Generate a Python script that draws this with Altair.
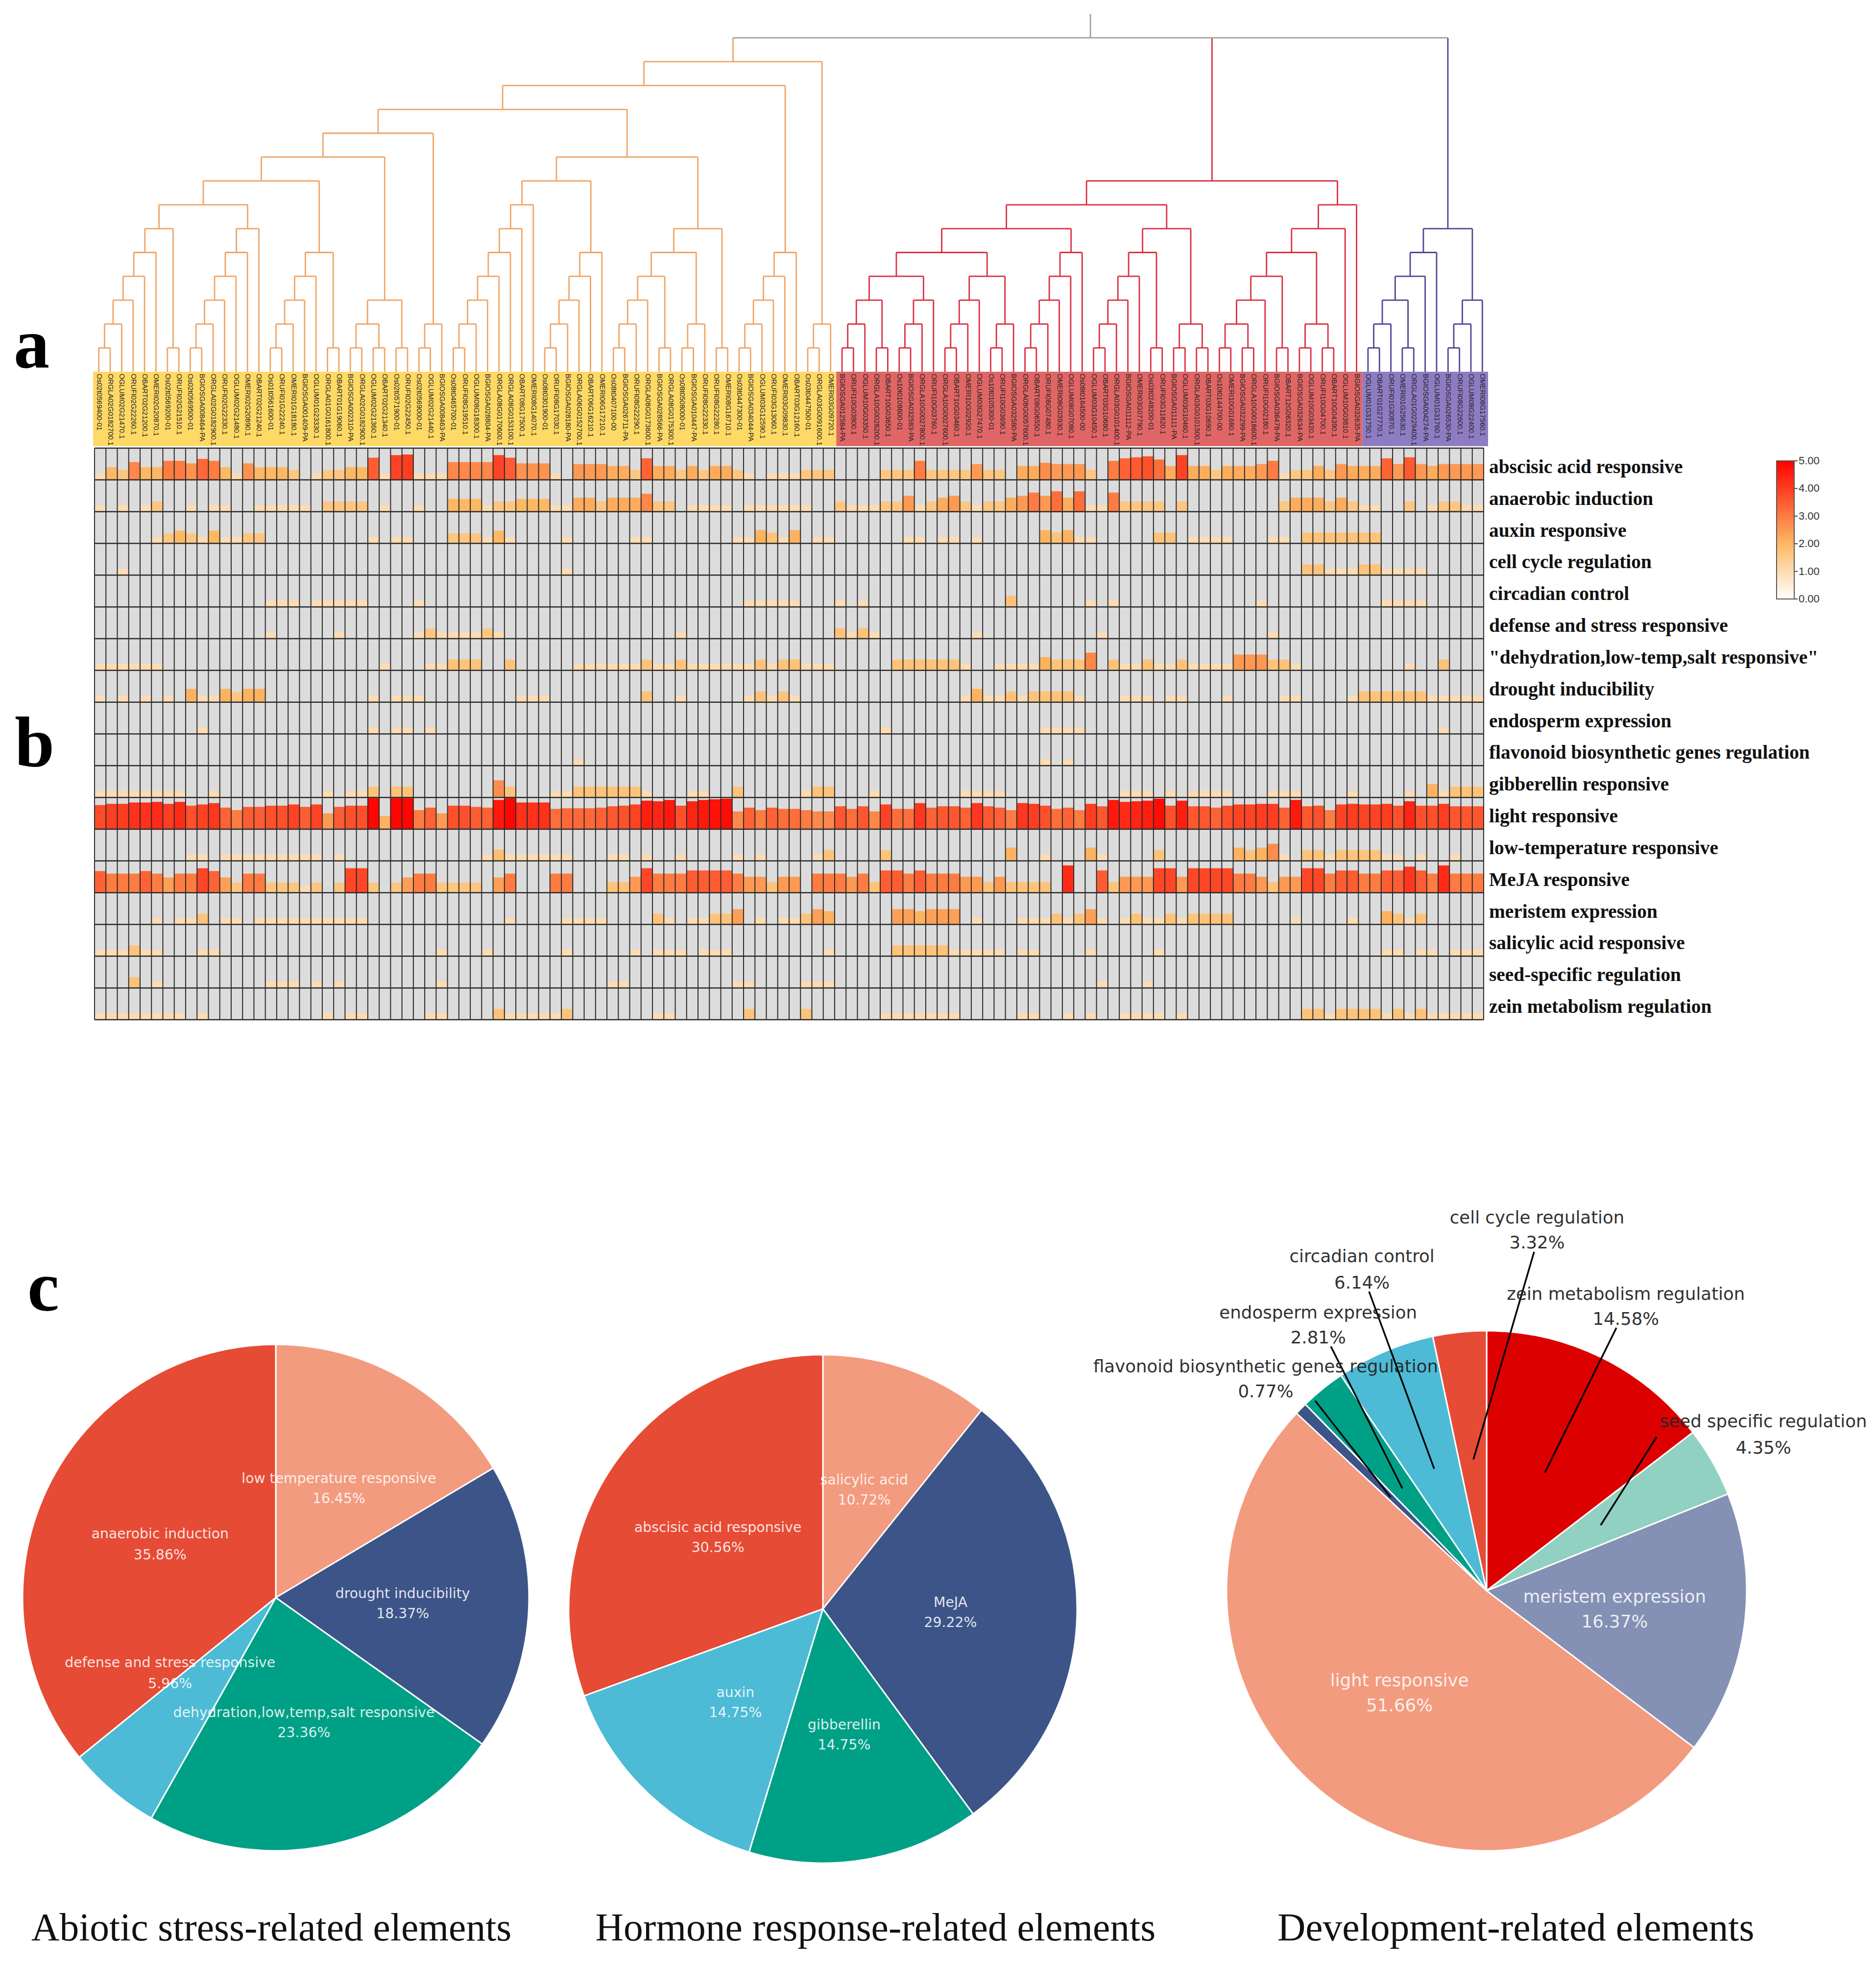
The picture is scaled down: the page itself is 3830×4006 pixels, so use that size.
import altair as alt
import pandas as pd

alt.data_transformers.disable_max_rows()

# ---------- heat map values ----------
row_names = ["abscisic acid responsive", "anaerobic induction", "auxin responsive", "cell cycle regulation",
             "circadian control", "defense and stress responsive", '"dehydration,low-temp,salt responsive"',
             "drought inducibility", "endosperm expression", "flavonoid biosynthetic genes regulation",
             "gibberellin responsive", "light responsive", "low-temperature responsive", "MeJA responsive",
             "meristem expression", "salicylic acid responsive", "seed-specific regulation",
             "zein metabolism regulation"]
N = 122
abscisic = [1,2,1.6,2.8,2,2,3,3,2.6,3.3,3,2,1,2.6,2,2,2,1.6,0,1,1.6,1.6,2,2,3.5,1,3.9,4,1,1,1,2.8,2.8,2.8,2.8,3.9,3.5,2.6,2.6,2.6,1,
            0,2.5,2.5,2.5,2.2,2.2,1.6,3.4,2.2,2.2,1.6,2.2,1.6,2.2,2.2,1.6,1,0,1,1,1,1.6,1.6,1.6,0,0,0,0,1.6,1.6,1.6,3,1.6,1.6,1.6,1.6,2.5,1.6,1.6,0,2.2,2.2,2.7,
            2.5,2.5,2.5,1.6,0,3,3.4,3.55,3.7,3.2,2.2,3.9,2.2,2.2,1.6,2.2,2.2,2.2,2.5,3,1,1.6,1.6,2.2,1.6,2.5,2.2,2.2,2.2,3.4,2.5,3.55,2.5,2.2,2.5,2.5,2.5,2.5]
light = [3.8,4,4,4.2,4.2,4.3,4,4.3,3.7,3.9,4.1,3.4,3,3.5,3.5,3.7,3.7,3.9,3.5,3.9,2.5,3.5,3.7,3.7,4.9,2.1,4.9,4.9,3,3.4,2.5,3.7,3.7,3.5,3.4,4.6,4.9,4.2,4.2,4.2,3.2,
         3.3,3.3,3.3,3.4,3.6,3.7,3.9,4.5,4.4,4.6,3.7,4.4,4.6,4.7,4.8,2.8,3.4,3,3.4,3.2,3.2,3,2.8,2.8,3.6,3.2,3.6,2.8,3.9,3.2,3.2,4.1,3.4,3.6,3.6,3.4,4.1,3.6,3.4,3,4.1,4,3.7,
         3.2,3.4,3,4,3.6,4.6,4.3,4.4,4.5,4.8,3.7,4.5,3.6,3.6,3.4,3.7,3.9,3.9,4,4,3.4,4.6,3.6,3.7,3,3.9,4,3.9,3.9,4,3.7,4.4,3.7,3.7,4,3.6,3.6,3.6]
meja = [3.4,3,3,3,3.4,3,2.4,3,3,3.85,3.4,2.4,1.6,3,3,1.6,1.6,1.6,1,1.6,0,1.6,3.85,3.85,1.6,0,1.6,2.4,3,3,1.6,1.6,1.6,1.6,0,2.4,3,0,0,0,3,
        3,0,0,0,1.7,1.7,2.5,3.85,3,3,3,3.5,3.5,3.5,3.5,3,2.5,2.5,1.7,2.5,2.5,0,3,3,3,2.5,3,1.7,3.5,3.5,3,3.5,3,3,3,2.5,2.5,1.7,2.5,1.7,1.7,1.7,1.7,
        0,4.3,0,0,3.5,1.7,2.5,2.5,2.5,3.85,3.85,2.5,3.85,3.85,3.85,3.85,3,3,2.5,1.7,2.5,2.5,3.85,3.85,3,3.5,3.5,3,3,3.5,3.5,4.1,3.5,3,4.3,3,3,3]
# the sparser rows are listed as (first column, last column, value)
anaerobic = [(0,0,1),(2,2,1),(4,4,1),(5,5,1.6),(8,8,1),(10,11,1),(14,18,1),(20,23,1.6),(25,25,1),(28,28,1),(31,33,2),(34,34,1),(35,36,1.6),(37,39,2),(40,40,1),
             (41,41,1),(42,43,2.2),(44,44,1.6),(45,47,2.2),(48,48,2.8),(49,50,1.6),(52,55,1),(57,62,1),(65,65,1.6),(66,68,1),(69,70,1.6),(71,71,2.5),(72,72,1),(73,73,1.6),(74,74,2.2),(75,75,2.5),(76,76,1.6),(77,77,1),(78,79,1.6),(80,80,2.2),(81,81,2.5),(82,82,3),(83,83,2.5),
             (84,84,3.2),(85,85,2.2),(86,86,3.2),(87,88,1),(89,89,3),(90,93,1.6),(95,95,1.6),(104,104,1.6),(105,107,2.2),(108,108,1.6),(109,109,2.2),(110,110,1.6),(111,112,1),(115,115,1.6),(117,117,1),(118,119,1.6),(120,121,1)]
auxin = [(5,5,1),(6,6,1.6),(7,7,2),(8,8,1.6),(9,9,1),(10,10,2),(11,12,1),(13,14,1.6),(24,24,1),(26,27,1),(31,33,1.6),(34,34,1),(35,35,2),(36,36,1),
         (41,41,1),(47,48,1),(56,57,1),(58,58,2.1),(59,59,1.7),(60,60,1),(61,61,2.1),(63,64,1),(71,72,1),(74,75,1),(77,77,1),(83,83,2.1),
         (84,84,1.7),(85,85,2.1),(86,87,1),(93,94,1.7),(96,99,1),(103,104,1),(106,112,1.7)]
cell_cycle = [(2,2,1),(41,41,1),(106,107,1.7),(108,110,1),(111,112,1.7),(113,116,1)]
circadian = [(15,17,1),(19,23,1),(28,28,1),(57,61,1),(65,65,1),(67,67,1),(80,80,1.75),(87,87,1),(89,89,1),(102,102,1),(113,116,1)]
defense = [(15,15,1),(21,21,1),(28,28,1),(29,29,1.6),(30,33,1),(34,34,1.6),(35,35,1),(51,51,1),(65,65,1.7),(66,66,1),(67,67,1.7),(68,68,1),(77,77,1),(88,88,1),(103,103,1)]
dehydration = [(0,5,1),(25,25,1),(29,30,1),(31,33,1.7),(36,36,1.7),(42,47,1),(48,48,1.7),(49,50,1),(51,51,1.7),(52,57,1),(58,58,1.7),(59,59,1),(60,61,1.7),(62,64,1),(70,75,1.7),(76,76,1),(79,82,1),(83,83,2.1),
               (84,86,1.7),(87,87,2.8),(89,89,1.7),(90,91,1),(92,92,1.7),(93,94,1),(95,95,1.7),(96,99,1),(100,102,2.5),(103,104,1.7),(105,105,1),(115,115,1),(118,118,1.7)]
drought = [(0,0,1),(2,2,1),(4,4,1),(6,6,1),(8,8,2.1),(9,10,1),(11,11,2.1),(12,12,1.6),(13,14,2.1),(24,24,1),(26,28,1),(37,39,1),(48,48,1.7),(51,51,1),(57,57,1),(58,58,1.7),(59,59,1),(60,60,1.7),(61,61,1),(76,76,1),(77,77,2.1),(78,79,1),(80,80,1.7),(81,81,1),(82,83,1.7),
           (84,85,1.7),(86,86,1),(90,92,1),(94,95,1),(99,99,1),(104,105,1),(110,110,1),(111,116,1.7),(117,121,1)]
endosperm = [(9,9,1),(24,24,1),(26,27,1),(29,29,1),(69,69,1),(83,83,1),(84,86,1),(118,118,1)]
flavonoid = [(42,42,1),(83,83,1),(85,85,1)]
gibberellin = [(0,7,1),(10,10,1),(20,20,1),(22,23,1),(24,24,1.7),(26,27,1.7),(35,35,2.7),(36,36,1.7),(40,40,1),(41,41,1),(42,47,1.7),(48,48,1),(52,53,1),(56,56,1.7),(62,62,1),(63,64,1.7),(68,68,1),(76,79,1),
               (90,92,1),(94,94,1),(96,99,1),(103,105,1),(110,110,1),(115,115,1),(117,117,2.1),(118,118,1),(119,121,1.7)]
low_temp = [(8,9,1),(11,19,1),(21,21,1),(34,34,1),(35,35,1.8),(36,40,1),(41,41,1),(45,46,1),(48,48,1),(51,51,1),(56,56,1),(58,58,1),(63,63,1),(64,64,1.7),(69,69,1.7),(80,80,2.1),(83,83,1),
            (87,87,2.1),(88,88,1),(93,93,1.7),(100,100,2.1),(101,101,1.7),(102,102,2.1),(103,103,2.7),(104,104,1),(106,107,1.7),(108,108,1),(109,112,1.7),(113,114,1),(116,116,1),(119,119,1)]
meristem = [(5,5,1),(7,8,1),(9,9,1.7),(11,12,1),(14,23,1),(36,36,1),(41,44,1),(49,49,1.7),(50,50,1),(52,53,1),(54,55,1.7),(56,56,2.4),(58,58,1),(60,61,1),(62,62,1.7),(63,63,2.4),(64,64,2.1),(70,71,2.4),(72,72,2.1),(73,75,2.4),(77,77,1),(81,83,1),
            (84,84,1.7),(85,85,1),(86,86,1.7),(87,87,2.4),(88,88,1),(90,90,1),(91,91,1.7),(92,93,1),(94,94,1.7),(95,95,1),(96,99,1.7),(105,105,1),(110,110,1),(113,113,2.1),(114,114,1.7),(115,115,1),(116,116,1.7)]
salicylic = [(0,2,1),(3,3,1.7),(4,5,1),(9,10,1),(30,30,1),(34,34,1),(41,41,1),(47,47,1),(49,51,1),(53,55,1),(64,64,1),(70,74,1.7),(75,79,1),(81,82,1),(87,87,1),(93,93,1),(113,114,1),(116,117,1),(119,121,1)]
seed = [(3,3,1.7),(5,5,1),(15,17,1),(19,19,1),(21,21,1),(30,30,1),(45,46,1),(56,57,1),(62,64,1),(88,88,1),(92,92,1)]
zein = [(0,7,1),(9,9,1),(20,20,1),(22,23,1),(29,30,1),(35,35,1.7),(36,40,1),(41,41,1.7),(49,50,1),(57,57,1.7),(62,62,1.7),(69,75,1),(81,82,1),
        (85,85,1),(87,87,1),(90,93,1),(95,95,1),(106,107,1.7),(108,108,1),(109,112,1.7),(113,113,1),(114,114,1.7),(115,115,1),(116,116,1.7),(117,121,1)]

rows_in_order = [abscisic, anaerobic, auxin, cell_cycle, circadian, defense, dehydration, drought, endosperm,
                 flavonoid, gibberellin, light, low_temp, meja, meristem, salicylic, seed, zein]

# ---------- leaf labels ----------
leaf_labels = ["Os02t0569400-01","ORGLA02G0182700.1","OGLUM02G21470.1","ORUFI02G22260.1","OBART02G21200.1","OMERI02G20870.1","Os02t0569200-01","ORUFI02G21510.1","Os02t0569500-01","BGIOSGA008464-PA",
 "ORGLA02G0182900.1","ORUFI02G22330.1","OGLUM02G21480.1","OMERI02G20890.1","OBART02G21240.1","Os01t0561600-01","ORUFI01G22240.1","OMERI01G18180.1","BGIOSGA001409-PA","OGLUM01G23330.1",
 "ORGLA01G0161800.1","OBART01G19060.1","BGIOSGA002310-PA","ORGLA02G0182900.1","OGLUM02G21360.1","OBART02G21340.1","Os02t0571900-01","ORUFI02G22450.1","Os02t0569000-01","OGLUM02G21440.1",
 "BGIOSGA008463-PA","Os08t0465700-01","ORUFI08G19510.1","OGLUM08G18300.1","BGIOSGA028804-PA","ORGLA08G0170600.1","ORGLA08G0153100.1","OBART08G17500.1","OMERI08G14070.1","Os08t0301900-01",
 "ORUFI08G17030.1","BGIOSGA028180-PA","ORGLA06G0152700.1","OBART06G16210.1","OMERI06G17210.1","Os08t0407100-00","BGIOSGA026711-PA","ORUFI08G22290.1","ORGLA08G0173600.1","BGIOSGA028566-PA",
 "ORGLA08G0175300.1","Os08t0508000-01","BGIOSGA010447-PA","ORUFI08G22330.1","ORUFI08G22280.1","OMERI08G16710.1","Os03t0447300-01","BGIOSGA034044-PA","OGLUM03G12590.1","ORUFI03G13060.1",
 "OMERI03G09830.1","OBART03G12160.1","Os03t0447500-01","ORGLA03G0091600.1","OMERI03G09720.1","BGIOSGA012584-PA","ORUFI10G03800.1","OGLUM10G03350.1","ORGLA10G0028200.1","OBART10G03650.1",
 "Os10t0108600-01","BGIOSGA032583-PA","ORGLA10G0027800.1","ORUFI10G03760.1","ORGLA10G0027600.1","OBART10G03460.1","OMERI10G02920.1","OGLUM03G27470.1","Os10t0105300-01","ORUFI10G03690.1",
 "BGIOSGA032580-PA","ORGLA08G0057600.1","OBART08G06550.1","ORUFI08G07480.1","OMERI08G03930.1","OGLUM08G07080.1","Os08t0164500-00","OGLUM03G10450.1","OBART03G10680.1","ORGLA03G0101400.1",
 "BGIOSGA011112-PA","OMERI03G07790.1","Os03t0248200-01","ORUFI03G11820.1","BGIOSGA011111-PA","OGLUM03G10460.1","ORGLA03G0101500.1","OBART03G10690.1","Os10t0144700-00","OMERI10G01680.1",
 "BGIOSGA032299-PA","ORGLA10G0018600.1","ORUFI10G02180.1","BGIOSGA036478-PA","OBART12G06320.1","BGIOSGA032634-PA","OGLUM10G03420.1","ORUFI10G04700.1","OBART10G04390.1","OGLUM10G03810.1",
 "BGIOSGA032635-PA","OGLUM01G31750.1","OBART01G27770.1","ORUFI01G30870.1","OMERI01G25630.1","ORGLA01G0229400.1","BGIOSGA004274-PA","OGLUM01G31760.1","BGIOSGA026530-PA","ORUFI08G22600.1",
 "OGLUM08G22400.1","OMERI08G17560.1"]

# ---------- dendrogram: (level, child, child); an int is a leaf ----------
A1=(6,(5,(4,(3,(2,(1,0,1),2),3),4),5),(1,6,7))
A2=(6,(5,(4,(3,(2,(1,8,9),10),11),12),13),14)
A3=(5,(4,(3,(2,(1,15,16),17),18),19),(1,20,21))
A4=(3,(2,(1,22,23),(1,24,25)),(1,26,27))
A5=(2,(1,28,29),30)
B1=(7,(6,(5,(4,(3,(2,(1,31,32),33),34),35),36),37),38)
B2=(5,(4,(3,(2,(1,39,40),41),42),43),44)
B3=(6,(5,(4,(3,(2,(1,45,46),47),48),(1,49,50)),(2,(1,51,52),53)),(1,54,55))
C1=(5,(4,(3,(2,(1,56,57),58),59),60),61)
D1=(2,(1,62,63),64)
yellow_tree=(13,(12,(11,(10,(9,(8,(7,A1,A2),A3),A4),A5),(9,(8,B1,B2),B3)),C1),D1)
R1=(5,(4,(3,(2,(1,65,66),67),(1,68,69)),(3,(2,(1,70,71),72),73)),(4,(3,(2,(1,74,75),76),77),(2,(1,78,79),80)))
R2=(5,(4,(3,(2,(1,81,82),83),84),85),86)
R3=(5,(4,(3,(2,(1,87,88),89),90),91),(1,92,93))
R4=(2,(1,94,95),(1,96,97))
R5=(5,(4,(3,(2,(1,98,99),(1,100,101)),102),(1,103,104)),(2,(1,105,106),(1,107,108)))
red_tree=(8,(7,(6,R1,R2),(6,R3,R4)),(7,(6,R5,109),110))
purple_tree=(6,(5,(4,(3,(2,(1,111,112),113),(1,114,115)),116),117),(3,(2,(1,118,119),120),121))
ROOT_LEVEL = 14
TOP_LEVEL = 15

strip_spans = [(0,65,"#FFD966"),(65,111,"#E06666"),(111,122,"#8E7CC3")]

# ---------- pies ----------
p1_names = ["low temperature responsive","drought inducibility","dehydration,low,temp,salt responsive","defense and stress responsive","anaerobic induction"]
p1_vals = [16.45,18.37,23.36,5.96,35.86]
p1_cols = ["#F39B7F","#3C5488","#00A087","#4DBBD5","#E64B35"]
p2_names = ["salicylic acid","MeJA","gibberellin","auxin","abscisic acid responsive"]
p2_vals = [10.72,29.22,14.75,14.75,30.56]
p2_cols = ["#F39B7F","#3C5488","#00A087","#4DBBD5","#E64B35"]
p3_names = ["zein metabolism regulation","seed specific regulation","meristem expression","light responsive","flavonoid biosynthetic genes regulation","endosperm expression","circadian control","cell cycle regulation"]
p3_vals = [14.58,4.35,16.37,51.66,0.77,2.81,6.14,3.32]
p3_cols = ["#DC0000","#91D1C2","#8491B4","#F39B7F","#3C5488","#00A087","#4DBBD5","#E64B35"]

# label anchors, in units of the 1500-wide layout grid
p1_xy = [(271,1181,1197),(322,1273,1289),(243,1368,1384),(136,1328,1345),(128,1225,1242)]
p2_xy = [(691,1182,1198),(760,1280,1296),(675,1378,1394),(588,1352,1368),(574,1220,1236)]
p3_xy = [(1300,1033,1053),(1410,1135,1156),(1291,1275,1295),(1119,1342,1362),(1012,1091,1111),(1054,1048,1068),(1089,1003,1024),(1229,972,992)]
leaders = [(3300,2711,3154,3007),(3382,2934,3268,3114),(2685,2860,2839,3057),(2717,2749,2863,3039),(2795,2637,2928,2999),(3132,2556,3008,2980)]
captions = [("Abiotic stress-related elements",217),("Hormone response-related elements",700),("Development-related elements",1212)]
panel_letters = [("a",28,750),("b",30,1565),("c",56,2676)]
legend_ticks = [0,1,2,3,4,5]

# ---------- build tables ----------
recs = []
for r, row in enumerate(rows_in_order):
    if isinstance(row[0], tuple):
        for a, b, v in row:
            for c in range(a, b+1):
                recs.append(dict(c=c, c2=c+1, yt=r+1-v/5, yb=r+1, v=v))
    else:
        assert len(row) == N
        for c, v in enumerate(row):
            if v > 0:
                recs.append(dict(c=c, c2=c+1, yt=r+1-v/5, yb=r+1, v=v))
cells = pd.DataFrame(recs)

segs = []
def walk(node, col):
    if isinstance(node, int):
        return node + 0.5, 0
    lv, *kids = node
    pts = [walk(k, col) for k in kids]
    xs = [p[0] for p in pts]
    segs.append(dict(x=min(xs), x2=max(xs), y=lv, y2=lv, col=col))
    for px, py in pts:
        segs.append(dict(x=px, x2=px, y=lv, y2=py, col=col))
    return (min(xs)+max(xs))/2, lv

ORANGE, RED, PURPLE, GREY = "#F0A465", "#DC2F40", "#4F4596", "#A0A0A0"
tops = [walk(yellow_tree, ORANGE), walk(red_tree, RED), walk(purple_tree, PURPLE)]
for (px, py), col in zip(tops, [ORANGE, RED, PURPLE]):
    segs.append(dict(x=px, x2=px, y=ROOT_LEVEL, y2=py, col=col))
rx = [t[0] for t in tops]
segs.append(dict(x=min(rx), x2=max(rx), y=ROOT_LEVEL, y2=ROOT_LEVEL, col=GREY))
segs.append(dict(x=(min(rx)+max(rx))/2, x2=(min(rx)+max(rx))/2, y=ROOT_LEVEL, y2=TOP_LEVEL, col=GREY))
tree = pd.DataFrame(segs)

M = 8
# scales (each layer has its own, all mapped into the page)
sx_tree = alt.Scale(domain=[0, N], range=[190-M, 3038-M], nice=False, zero=False)
sy_tree = alt.Scale(domain=[0, 16], range=[759-M, 759-M-16*48.7], nice=False, zero=False)
sx_heat = alt.Scale(domain=[0, N], range=[193-M, 3029-M], nice=False, zero=False)
sy_heat = alt.Scale(domain=[0, 18], range=[915-M, 2082-M], nice=False, zero=False)
sx_can = alt.Scale(domain=[0, 3830], range=[-M, 3830-M], nice=False, zero=False)
sy_can = alt.Scale(domain=[0, 4006], range=[-M, 4006-M], nice=False, zero=False)
s_theta = alt.Scale(domain=[0, 100], range=[0, 6.283185], nice=False, zero=False)
sy_leg = alt.Scale(domain=[0, 5], range=[1223-M, 941-M], nice=False, zero=False)

def X(f, s): return alt.X(f, type="quantitative", scale=s, axis=None)
def Y(f, s): return alt.Y(f, type="quantitative", scale=s, axis=None)

layers = []

# heat map background
layers.append(alt.Chart(pd.DataFrame({"a":[0],"b":[N],"c":[0],"d":[18]})).mark_rect(color="#DCDCDC").encode(
    x=X("a", sx_heat), x2="b", y=Y("c", sy_heat), y2="d"))
# cells
layers.append(alt.Chart(cells).mark_rect().encode(
    x=X("c", sx_heat), x2="c2", y=Y("yt", sy_heat), y2="yb",
    color=alt.Color("v:Q", scale=alt.Scale(domain=[0,2,5], range=["#FFFFFF","#FDB863","#FF0000"], zero=False, nice=False, interpolate="rgb"),
                    legend=alt.Legend(orient="none", legendX=3627-M, legendY=941-M, direction="vertical", title=None,
                                      gradientLength=282, gradientThickness=36, values=legend_ticks,
                                      labelOpacity=0, labelFontSize=1,
                                      gradientStrokeColor="#555555", gradientStrokeWidth=2))))
# grid
layers.append(alt.Chart(pd.DataFrame({"g":list(range(N+1)),"a":[0]*(N+1),"b":[18]*(N+1)})).mark_rule(color="#2A2A2A", strokeWidth=2).encode(
    x=X("g", sx_heat), y=Y("a", sy_heat), y2="b"))
layers.append(alt.Chart(pd.DataFrame({"r":list(range(19)),"a":[0]*19,"b":[N]*19})).mark_rule(color="#2A2A2A", strokeWidth=2.5).encode(
    y=Y("r", sy_heat), x=X("a", sx_heat), x2="b"))
# row labels
layers.append(alt.Chart(pd.DataFrame({"t":row_names,"r":[i+0.5 for i in range(18)]})).mark_text(
    align="left", baseline="middle", font="Liberation Serif", fontWeight="bold", fontSize=39.4, dy=6.5, color="#111111",
    ).encode(y=Y("r", sy_heat), x=alt.value(3040-M), text="t:N"))
# label strip
layers.append(alt.Chart(pd.DataFrame({"a":[s[0] for s in strip_spans],"b":[s[1] for s in strip_spans],"col":[s[2] for s in strip_spans]})).mark_rect().encode(
    x=X("a", sx_tree), x2="b", y=alt.value(759-M), y2=alt.value(911-M), color=alt.Color("col:N", scale=None)))
layers.append(alt.Chart(pd.DataFrame({"t":leaf_labels,"c":[i+0.5 for i in range(N)]})).mark_text(
    angle=90, align="left", baseline="middle", font="Liberation Sans", fontSize=14.5, color="#222222",
    ).encode(x=X("c", sx_tree), y=alt.value(763-M), text="t:N"))
# dendrogram
layers.append(alt.Chart(tree).mark_rule(strokeWidth=2.8).encode(
    x=X("x", sx_tree), x2="x2", y=Y("y", sy_tree), y2="y2", color=alt.Color("col:N", scale=None)))
# colour bar ticks and labels
leg_df = pd.DataFrame({"v":legend_ticks, "t":[f"{v:.2f}" for v in legend_ticks]})
layers.append(alt.Chart(leg_df).mark_rule(color="#444444", strokeWidth=2).encode(
    y=Y("v", sy_leg), x=alt.value(3663-M), x2=alt.value(3670-M)))
layers.append(alt.Chart(leg_df).mark_text(align="left", baseline="middle", font="Liberation Sans", fontSize=22, color="#333333").encode(
    y=Y("v", sy_leg), x=alt.value(3672-M), text="t:N"))

# pies
def pie(names, vals, cols, cx, cy, r):
    starts, ends, t = [], [], 0.0
    for v in vals:
        starts.append(t); t += v; ends.append(t)
    return alt.Chart(pd.DataFrame({"n":names,"a":starts,"b":ends,"col":cols})).mark_arc(
        outerRadius=r, stroke="white", strokeWidth=3).encode(
        theta=alt.Theta("a:Q", scale=s_theta, stack=None), theta2="b",
        x=alt.value(cx-M), y=alt.value(cy-M), color=alt.Color("col:N", scale=None))
layers.append(pie(p1_names, p1_vals, p1_cols, 563, 3262, 517))
layers.append(pie(p2_names, p2_vals, p2_cols, 1680, 3285, 519))
layers.append(pie(p3_names, p3_vals, p3_cols, 3035, 3248, 531))

# pie labels
S = 3830/1500
def label_rows(names, vals, xy):
    out = []
    for n, v, (x, y1, y2) in zip(names, vals, xy):
        out.append(dict(t=n, x=x*S, y=y1*S))
        out.append(dict(t=f"{v:.2f}%", x=x*S, y=y2*S))
    return pd.DataFrame(out)
def text_layer(df, size, color, op):
    return alt.Chart(df).mark_text(align="center", baseline="middle", font="DejaVu Sans", fontSize=size, color=color, opacity=op, dy=5).encode(
        x=X("x", sx_can), y=Y("y", sy_can), text="t:N")
layers.append(text_layer(label_rows(p1_names, p1_vals, p1_xy), 28.3, "#FFFFFF", 0.85))
layers.append(text_layer(label_rows(p2_names, p2_vals, p2_xy), 28.3, "#FFFFFF", 0.85))
inside = {"meristem expression","light responsive"}
idx_in = [i for i,n in enumerate(p3_names) if n in inside]
idx_out = [i for i,n in enumerate(p3_names) if n not in inside]
layers.append(text_layer(label_rows([p3_names[i] for i in idx_in],[p3_vals[i] for i in idx_in],[p3_xy[i] for i in idx_in]), 35.6, "#FFFFFF", 0.85))
layers.append(alt.Chart(pd.DataFrame(leaders, columns=["x","y","x2","y2"])).mark_rule(color="#000000", strokeWidth=3.5).encode(
    x=X("x", sx_can), x2="x2", y=Y("y", sy_can), y2="y2"))
layers.append(text_layer(label_rows([p3_names[i] for i in idx_out],[p3_vals[i] for i in idx_out],[p3_xy[i] for i in idx_out]), 35.6, "#262626", 0.95))

# captions and panel letters
layers.append(alt.Chart(pd.DataFrame({"t":[c[0] for c in captions],"x":[c[1]*S for c in captions],"y":[3962]*3})).mark_text(
    align="center", baseline="alphabetic", font="Liberation Serif", fontSize=79.5, color="#111111").encode(
    x=X("x", sx_can), y=Y("y", sy_can), text="t:N"))
layers.append(alt.Chart(pd.DataFrame(panel_letters, columns=["t","x","y"])).mark_text(
    align="left", baseline="alphabetic", font="Liberation Serif", fontWeight="bold", fontSize=146, color="#000000").encode(
    x=X("x", sx_can), y=Y("y", sy_can), text="t:N"))

chart = alt.layer(*layers).resolve_scale(x="independent", y="independent", color="independent", theta="independent").properties(
    width=3814, height=3990, padding=0, autosize=alt.AutoSizeParams(type="none"), background="white"
).configure_view(stroke=None)

chart.save("out.html", embed_options={"renderer": "svg", "actions": False})
